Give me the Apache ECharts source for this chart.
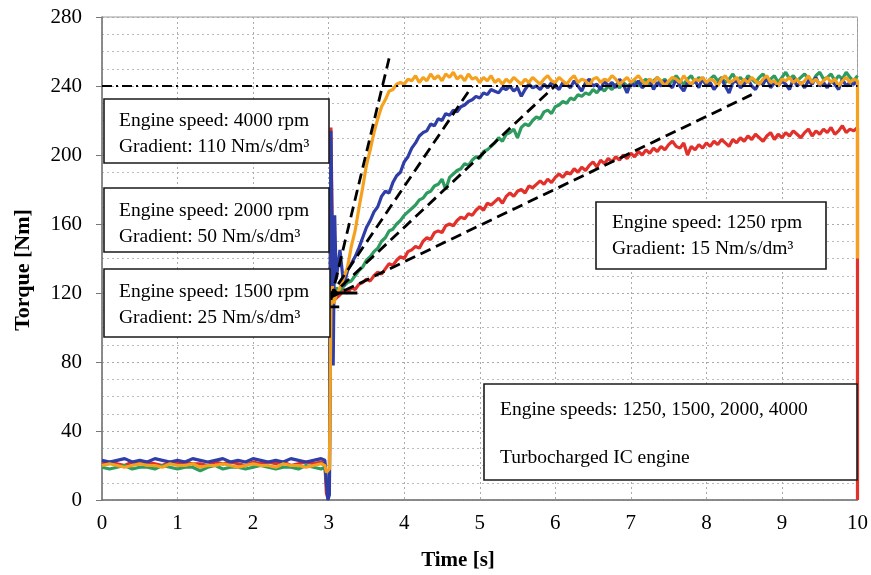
<!DOCTYPE html>
<html>
<head>
<meta charset="utf-8">
<script src="https://cdn.jsdelivr.net/npm/echarts@6/dist/echarts.min.js"></script>
<style>
  html, body { margin: 0; padding: 0; background: #fff; }
  #chart { width: 871px; height: 575px; }
</style>
</head>
<body>
<div id="chart"></div>
<script>
// torque step response, four engine speeds
var xTicks = { min: 0, max: 10, step: 1 };
var yTicks = { min: 0, max: 280, step: 40 };
var targetTorque = 240;

// samples before the step: every 0.1 s from 0 s
var baseStep = 0.1;
// samples after the step: every 0.05 s from 3.1 s
var rampStart = 3.1, rampStep = 0.05;

// 1250 rpm
var redBase = [21,22,21,20,22,21,22,21,20,22,21,22,21,21,20,22,21,22,21,20,22,21,22,21,22,20,21,22,21,22];
var redJump = [[2.95,21],[2.97,4],[2.99,1],[3.01,6],[3.03,216],[3.05,150],[3.07,116]];
var redRamp = [
  117,119,122,120,123,122,125,126,128,127,
  130,132,131,134,137,136,139,141,140,144,
  145,147,146,150,152,151,155,156,155,159,
  160,159,162,164,163,166,165,168,170,168,
  172,171,173,175,172,176,178,176,179,180,
  178,182,181,183,185,183,186,184,187,189,
  187,190,189,192,190,193,191,194,196,193,
  197,195,198,196,199,197,200,198,201,199,
  202,200,203,201,204,202,205,203,206,208,
  205,204,207,200,205,203,206,204,207,205,
  208,206,209,207,205,209,207,210,208,211,
  209,212,210,208,211,213,209,212,210,213,
  211,214,212,210,213,215,211,214,212,215,
  213,216,212,214,217,213,215,214,216
];
var redTail = [[10,0]];

// 1500 rpm
var greenBase = [19,18,19,20,18,19,19,18,20,19,18,19,19,17,19,20,18,19,19,18,19,20,19,18,19,19,18,20,19,18];
var greenJump = [[2.95,19],[2.97,12],[2.99,4],[3.01,9],[3.03,192],[3.05,128],[3.07,118]];
var greenRamp = [
  123,121,124,126,127,130,133,135,139,141,
  144,146,150,152,156,157,160,162,165,167,
  169,171,174,175,178,179,182,183,186,180,
  187,189,191,192,195,194,197,199,198,202,
  203,205,207,210,208,212,213,215,210,216,
  218,217,220,222,221,225,226,224,228,229,
  231,230,233,232,235,234,236,235,238,236,
  239,237,240,238,241,239,242,240,241,243,
  240,
  242,244,241,243,245,242,244,241,243,246,
  243,241,244,246,242,245,243,241,244,246,
  243,245,242,244,247,243,245,242,246,244,
  242,245,247,243,244,246,242,245,248,244,
  246,243,245,247,244,242,246,248,244,245,
  247,243,246,244,248,245,243,246
];
var greenTail = [];

// 2000 rpm
var blueBase = [23,22,23,24,22,23,22,24,23,22,23,22,24,23,22,23,24,22,23,22,24,23,22,23,22,24,23,22,23,24];
var blueJump = [[2.95,23],[2.97,10],[2.99,0],[3.01,3],[3.03,214],[3.05,132],[3.06,78],[3.08,165]];
var blueRamp = [
  128,145,124,133,137,141,146,152,158,162,
  167,170,176,179,178,184,188,190,196,199,
  204,207,211,213,214,218,217,221,220,224,
  223,226,225,228,229,231,232,234,233,236,
  235,238,237,236,239,238,240,237,239,234,
  238,241,239,240,238,241,239,242,240,
  238,242,241,239,243,240,237,242,244,240,
  241,238,243,240,242,239,244,241,236,242,
  240,243,239,241,244,238,242,240,243,241,
  239,244,240,237,242,241,243,239,245,240,
  242,238,241,244,240,236,242,243,239,241,
  244,240,238,242,241,245,239,242,240,243,
  241,238,244,240,242,239,243,241,245,240,
  242,239,243,241,238,244,240,242,241,243
];
var blueTail = [];

// 4000 rpm
var orangeBase = [20,21,20,19,20,21,20,20,19,21,20,20,21,19,20,20,21,20,19,20,21,20,20,19,21,20,20,19,20,21];
var orangeJump = [[2.95,20],[2.97,16],[2.99,15],[3.01,18],[3.03,110],[3.05,124],[3.07,114]];
var orangeRamp = [
  119,123,129,135,147,156,169,181,194,203,
  213,221,228,232,237,238,241,242,241,244,
  243,246,242,245,243,247,244,246,243,247,
  245,248,244,246,243,247,244,245,242,245,
  243,246,242,244,241,244,242,245,243,241,
  244,242,245,243,241,244,246,243,242,245,
  243,241,244,246,242,244,243,240,244,245,
  242,244,243,246,244,241,243,245,242,244,
  246,243,241,244,242,245,243,240,243,245,
  244,242,246,243,241,244,243,245,242,244,
  243,240,244,246,242,243,245,241,244,242,
  245,243,241,244,246,242,243,240,244,243,
  245,242,244,241,243,246,242,244,241,243,
  245,242,244,240,243,245,242,244,243
];
var orangeTail = [[10,140]];

// gradient lines (start, end)
var tangent4000 = [[3.03,116],[3.80,256]];
var tangent2000 = [[3.00,117],[4.90,240]];
var tangent1500 = [[3.00,117],[6.02,241]];
var tangent1250 = [[3.00,117],[8.60,235]];
var startMarkA = [[3.00,120],[3.38,120]];
var startMarkB = [[3.00,112],[3.14,112]];

function buildSeries(base, jump, ramp, tail) {
  var pts = [];
  base.forEach(function (v, i) { pts.push([+(i * baseStep).toFixed(2), v]); });
  jump.forEach(function (p) { pts.push(p); });
  ramp.forEach(function (v, i) { pts.push([+(rampStart + i * rampStep).toFixed(2), v]); });
  tail.forEach(function (p) { pts.push(p); });
  return pts;
}

var serif = '"Liberation Serif", "Times New Roman", serif';

function curve(name, color, data) {
  return {
    name: name, type: 'line', data: data,
    showSymbol: false, symbol: 'none',
    lineStyle: { color: color, width: 3.2 },
    itemStyle: { color: color },
    z: 2
  };
}
function guide(data, dashed, extra) {
  var s = {
    type: 'line', data: data, showSymbol: false, symbol: 'none', silent: true,
    lineStyle: { color: '#000', width: 2.8, type: dashed ? [11, 6] : 'solid' },
    z: 5
  };
  return Object.assign(s, extra || {});
}

function box(x, y, w, h) {
  return { type: 'rect', z: 100, shape: { x: x, y: y, width: w, height: h },
    style: { fill: '#fff', stroke: '#1a1a1a', lineWidth: 1.6 } };
}
function label(x, y, text, lh) {
  return { type: 'text', z: 101, x: x, y: y,
    style: { text: text, font: '19.5px ' + serif, fill: '#000', lineHeight: lh || 26, verticalAlign: 'top' } };
}

var myChart = echarts.init(document.getElementById('chart'));
myChart.setOption({
  animation: false,
  grid: { left: 102, right: 13, top: 17, bottom: 75, show: true, borderColor: '#9a9a9a', borderWidth: 1 },
  xAxis: {
    type: 'value', min: xTicks.min, max: xTicks.max, interval: xTicks.step,
    axisLine: { lineStyle: { color: '#777', width: 1.5 } },
    axisTick: { show: false },
    axisLabel: { color: '#000', fontSize: 21, fontFamily: serif, margin: 13 },
    splitLine: { show: true, lineStyle: { color: '#aaa', type: [2, 3] } }
  },
  yAxis: {
    type: 'value', min: yTicks.min, max: yTicks.max, interval: yTicks.step,
    axisLine: { show: true, lineStyle: { color: '#777', width: 1.5 } },
    axisTick: { show: true, length: 6, lineStyle: { color: '#777' } },
    axisLabel: { color: '#000', fontSize: 21, fontFamily: serif, margin: 20 },
    splitLine: { show: true, lineStyle: { color: '#aaa', type: [2, 3] } },
    minorTick: { show: false, splitNumber: 4 },
    minorSplitLine: { show: true, lineStyle: { color: '#bbb', type: [2, 3] } }
  },
  series: [
    curve('1250 rpm', '#E2302A', buildSeries(redBase, redJump, redRamp, redTail)),
    curve('1500 rpm', '#2E9B5F', buildSeries(greenBase, greenJump, greenRamp, greenTail)),
    curve('2000 rpm', '#2F3DA6', buildSeries(blueBase, blueJump, blueRamp, blueTail)),
    curve('4000 rpm', '#F6A11E', buildSeries(orangeBase, orangeJump, orangeRamp, orangeTail)),
    guide(tangent4000, true, {
      markLine: {
        silent: true, symbol: 'none', label: { show: false },
        lineStyle: { color: '#000', width: 1.8, type: [10, 4, 2, 4] },
        data: [{ yAxis: targetTorque }]
      }
    }),
    guide(tangent2000, true),
    guide(tangent1500, true),
    guide(tangent1250, true),
    guide(startMarkA, false),
    guide(startMarkB, false)
  ],
  graphic: [
    box(104, 99, 225, 64), label(119, 108, 'Engine speed: 4000 rpm\nGradient: 110 Nm/s/dm³'),
    box(104, 188, 225, 64), label(119, 198, 'Engine speed: 2000 rpm\nGradient: 50 Nm/s/dm³'),
    box(104, 269, 226, 68), label(119, 279, 'Engine speed: 1500 rpm\nGradient: 25 Nm/s/dm³'),
    box(596, 202, 230, 67), label(612, 210, 'Engine speed: 1250 rpm\nGradient: 15 Nm/s/dm³'),
    box(484, 384, 373, 96),
    label(500, 397, 'Engine speeds: 1250, 1500, 2000, 4000'),
    label(500, 445, 'Turbocharged IC engine'),
    { type: 'text', x: 23, y: 270, rotation: Math.PI / 2,
      style: { text: 'Torque [Nm]', font: 'bold 22px ' + serif, fill: '#000', align: 'center', verticalAlign: 'middle' } },
    { type: 'text', x: 458, y: 561,
      style: { text: 'Time [s]', font: 'bold 21px ' + serif, fill: '#000', align: 'center', verticalAlign: 'middle' } }
  ]
});
</script>
</body>
</html>
